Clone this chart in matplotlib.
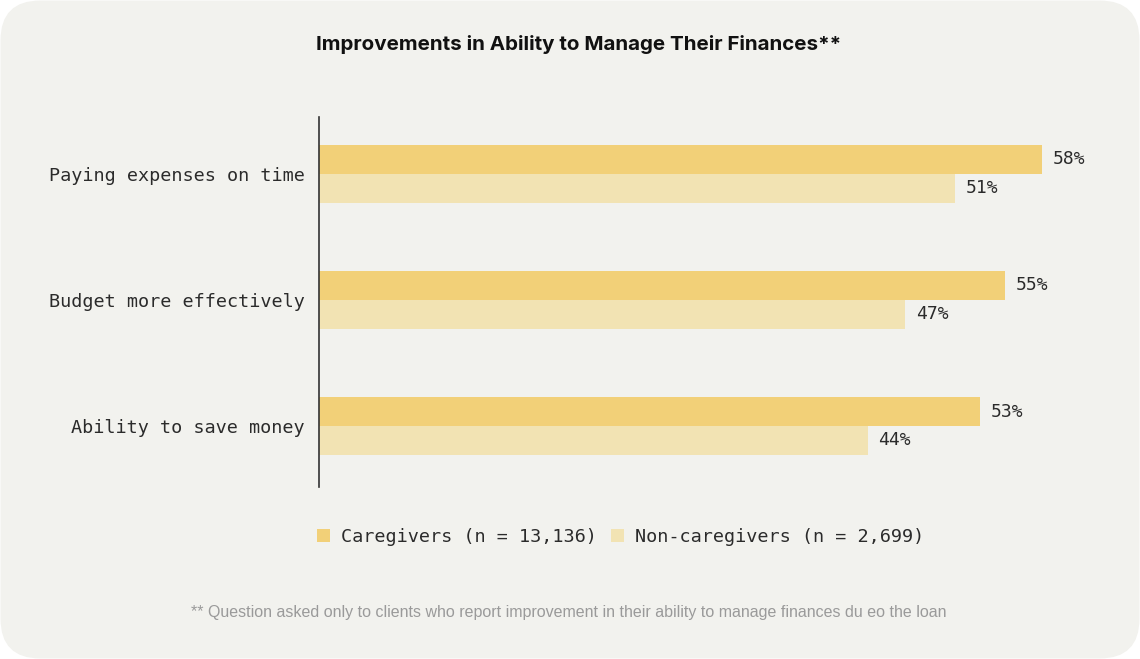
import matplotlib.pyplot as plt
from matplotlib.patches import FancyBboxPatch, Patch

# data
categories = ['Paying expenses on time', 'Budget more effectively', 'Ability to save money']
caregivers = [58, 55, 53]
non_caregivers = [51, 47, 44]
series_names = ['Caregivers (n = 13,136)', 'Non-caregivers (n = 2,699)']
title = 'Improvements in Ability to Manage Their Finances**'
footnote = ('** Question asked only to clients who report improvement in their '
            'ability to manage finances du eo the loan')

W, H = 1140, 659
BG = '#f2f2ee'
C1 = '#f2d078'
C2 = '#f2e3b3'
TXT = '#2b2b2b'
MONO = 'DejaVu Sans Mono'

fig = plt.figure(figsize=(W / 100, H / 100), dpi=100, facecolor='white')
bg = FancyBboxPatch((0.5 / W, 0.5 / H), 1 - 1 / W, 1 - 1 / H,
                    boxstyle='round,pad=0,rounding_size=0.035',
                    transform=fig.transFigure, facecolor=BG, edgecolor='none',
                    mutation_aspect=W / H, zorder=-10)
fig.patches.append(bg)

# axes placed in pixel coords: left 319, top 117, bottom 487
left, top, bottom, right = 319, 117, 487, 1100
ax = fig.add_axes([left / W, 1 - bottom / H, (right - left) / W, (bottom - top) / H])
ax.set_facecolor('none')

y = list(range(len(categories)))
bh = 0.23
ax.barh([i - bh / 2 for i in y], caregivers, height=bh, color=C1, label=series_names[0])
ax.barh([i + bh / 2 for i in y], non_caregivers, height=bh, color=C2, label=series_names[1])

for i in y:
    ax.text(caregivers[i] + 0.85, i - bh / 2, f'{caregivers[i]}%', va='center', ha='left',
            fontsize=13, family=MONO, color=TXT)
    ax.text(non_caregivers[i] + 0.85, i + bh / 2, f'{non_caregivers[i]}%', va='center', ha='left',
            fontsize=13, family=MONO, color=TXT)

ax.set_xlim(0, (right - left) / 12.47)
ax.set_ylim(2.484, -0.452)
ax.set_yticks(y)
ax.set_yticklabels(categories, family=MONO, fontsize=13.3, color=TXT)
ax.tick_params(axis='y', length=0, pad=10)
ax.set_xticks([])
for s in ['top', 'right', 'bottom']:
    ax.spines[s].set_visible(False)
ax.spines['left'].set_color('#333333')
ax.spines['left'].set_linewidth(1.2)

fig.text(579 / W, 1 - 45 / H, title, ha='center', va='center', fontsize=14.8,
         fontweight='bold', family='Inter', color='#111111')

handles = [Patch(facecolor=C1, edgecolor='none'), Patch(facecolor=C2, edgecolor='none')]
fig.legend(handles, series_names, loc='center left', bbox_to_anchor=(300 / W, 1 - 537 / H),
           ncol=2, frameon=False, handlelength=0.7, handleheight=0.7, handletextpad=0.6,
           columnspacing=0.8, prop={'family': MONO, 'size': 13.3}, labelcolor=TXT)

fig.text(569 / W, 1 - 612 / H, footnote, ha='center', va='center', fontsize=11.5,
         family='Liberation Sans', color='#9a9a9a')

fig.savefig('out.png', dpi=100, facecolor=fig.get_facecolor())
